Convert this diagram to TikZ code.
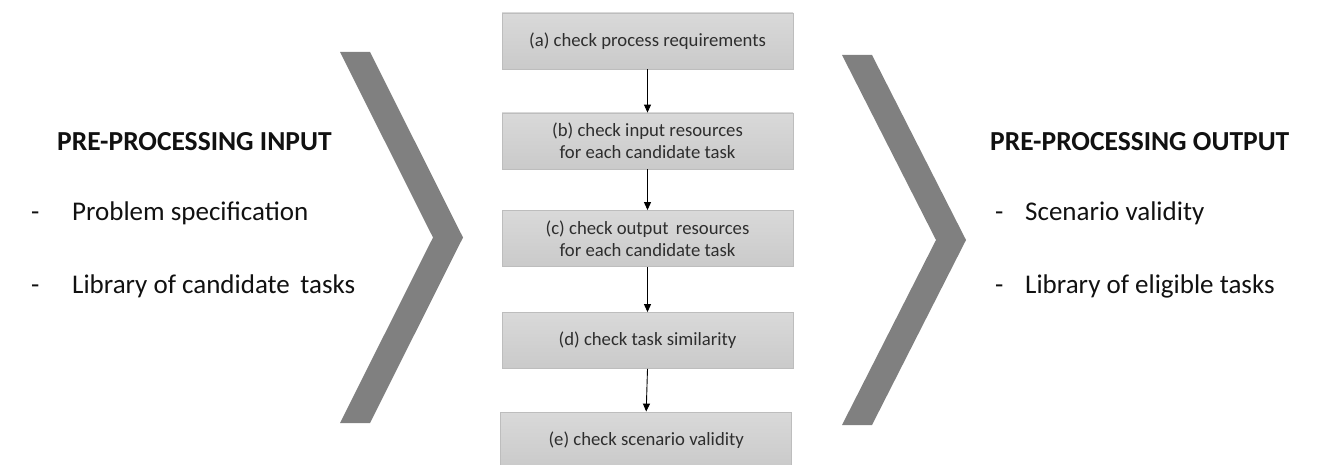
\documentclass[tikz,border=0pt]{standalone}
\usepackage{fontspec}
\setmainfont{Carlito}
\usetikzlibrary{arrows.meta}
\definecolor{chevgray}{HTML}{808080}
\definecolor{boxedge}{HTML}{BDBDBD}
\definecolor{boxtop}{HTML}{D9D9D9}
\definecolor{boxbot}{HTML}{CACACA}
\definecolor{boxtext}{HTML}{2E2E2E}
\definecolor{maintext}{HTML}{111111}
\tikzset{
  stepbox/.style={draw=boxedge, line width=0.8pt, top color=boxtop, bottom color=boxbot,
    minimum width=291pt, minimum height=56pt, inner sep=0pt, align=center,
    text=boxtext, font=\fontsize{18.7}{22}\selectfont},
  flow/.style={-{Triangle[length=8pt,width=7pt]}, line width=0.9pt, black},
  chev/.style={fill=chevgray},
  title/.style={anchor=base west, text=maintext, inner sep=0pt, font=\fontsize{27.5}{30}\selectfont\bfseries},
  item/.style={anchor=base west, text=maintext, inner sep=0pt, font=\fontsize{27}{30}\selectfont}
}
\begin{document}
\begin{tikzpicture}[x=1pt,y=-1pt]
\useasboundingbox (0,0) rectangle (1325,465);
% chevrons
\fill[chev] (340,52) -- (370,52) -- (463,237.5) -- (370,423) -- (340,423) -- (433,237.5) -- cycle;
\fill[chev] (842,55) -- (872,55) -- (966,240) -- (872,425) -- (842,425) -- (936,240) -- cycle;
% boxes
\node[stepbox] (a) at (647.5,41) {(a) check process requirements};
\node[stepbox] (b) at (647.5,141) {(b) check input resources\\for each candidate task};
\node[stepbox] (c) at (647.5,238.5) {(c) check output\ \,resources\\for each candidate task};
\node[stepbox] (d) at (647.5,340.5) {(d) check task similarity};
\node[stepbox] (e) at (646.2,440) {(e) check scenario validity};
\draw[flow] (a.south) -- (b.north);
\draw[flow] (b.south) -- (c.north);
\draw[flow] (c.south) -- (d.north);
\draw[flow] (d.south) -- (e.north);
% left text
\node[title] (lt) at (57,150.7) {PRE-PROCESSING INPUT};
\node[item] (ld1) at (31,220.7) {-};
\node[item] (l1) at (72,220.7) {Problem specification};
\node[item] (ld2) at (31,293.7) {-};
\node[item] (l2) at (72,293.7) {Library of candidate\ \,tasks};
% right text
\node[title] (rt) at (990,150.7) {PRE-PROCESSING OUTPUT};
\node[item] (rd1) at (995,220.7) {-};
\node[item] (r1) at (1025,220.7) {Scenario validity};
\node[item] (rd2) at (995,293.7) {-};
\node[item] (r2) at (1025,293.7) {Library of eligible tasks};
\end{tikzpicture}
\end{document}
